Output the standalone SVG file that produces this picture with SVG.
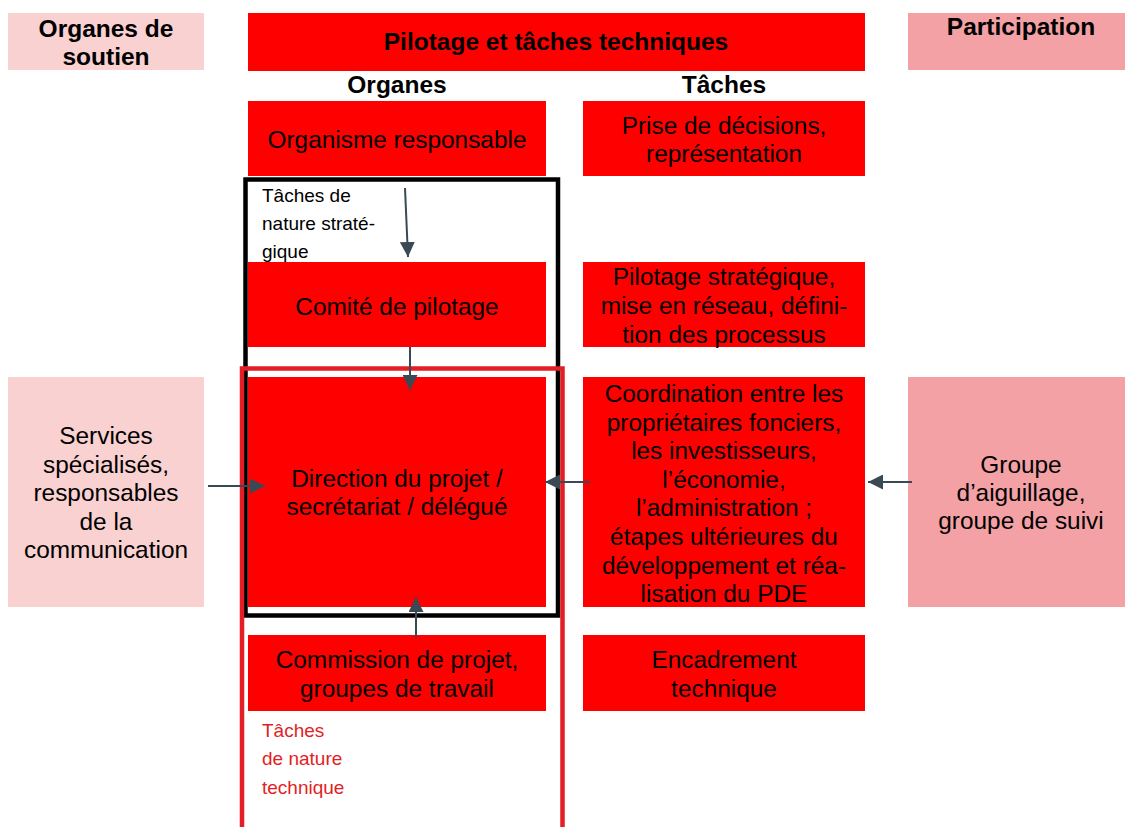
<svg xmlns="http://www.w3.org/2000/svg" width="1125" height="827" viewBox="0 0 1125 827">
<defs>
<style>
.box{fill:#ff0000}
.soft{fill:#f9d1d1}
.mid{fill:#f4a1a5}
text{font-family:"Liberation Sans",Arial,sans-serif;font-size:24.4px;text-anchor:middle;fill:#000}
.b{font-weight:bold;font-size:24.5px}
.s{font-size:19px;text-anchor:start}
.rt{fill:#e31e24}
.conn line{stroke:#3a4a55;stroke-width:2;marker-end:url(#ah)}
</style>
<marker id="ah" viewBox="0 0 10 10" refX="10" refY="5" markerUnits="userSpaceOnUse" markerWidth="15" markerHeight="15" orient="auto">
<path d="M0,0 L10,5 L0,10 z" fill="#3a4a55"/>
</marker>
</defs>
<rect width="1125" height="827" fill="#fff"/>

<g id="soutien-header">
<rect class="soft" x="8" y="13" width="196" height="57"/>
<text class="b" x="106" y="37">Organes de</text>
<text class="b" x="106" y="65">soutien</text>
</g>
<g id="pilotage-header">
<rect class="box" x="248" y="13" width="617" height="58"/>
<text class="b" x="556" y="50">Pilotage et tâches techniques</text>
</g>
<g id="participation-header">
<rect class="mid" x="908" y="13" width="217" height="57"/>
<text class="b" x="1021" y="35">Participation</text>
</g>
<g id="col-organes"><text class="b" x="397" y="93">Organes</text></g>
<g id="col-taches"><text class="b" x="724" y="93">Tâches</text></g>

<g id="frame-strategique">
<rect x="245.5" y="179.5" width="312.5" height="436" fill="none" stroke="#000" stroke-width="4.5"/>
<text class="s" x="262" y="202">Tâches de</text>
<text class="s" x="262" y="230">nature straté-</text>
<text class="s" x="262" y="258">gique</text>
</g>
<g id="frame-technique">
<path d="M242,830 V368.5 H562.5 V830" fill="none" stroke="#e31e24" stroke-width="4.5"/>
<text class="s rt" x="262" y="737">Tâches</text>
<text class="s rt" x="262" y="765">de nature</text>
<text class="s rt" x="262" y="794">technique</text>
</g>

<g id="organisme">
<rect class="box" x="248" y="101" width="298" height="75"/>
<text x="397" y="148">Organisme responsable</text>
</g>
<g id="prise-decisions">
<rect class="box" x="583" y="101" width="282" height="75"/>
<text x="724" y="134">Prise de décisions,</text>
<text x="724" y="162">représentation</text>
</g>
<g id="comite">
<rect class="box" x="248" y="262" width="298" height="85"/>
<text x="397" y="315">Comité de pilotage</text>
</g>
<g id="pilotage-strategique">
<rect class="box" x="583" y="262" width="282" height="85"/>
<text x="724" y="285">Pilotage stratégique,</text>
<text x="724" y="314">mise en réseau, défini-</text>
<text x="724" y="343">tion des processus</text>
</g>
<g id="services">
<rect class="soft" x="8" y="377" width="196" height="230"/>
<text x="106" y="444">Services</text>
<text x="106" y="473">spécialisés,</text>
<text x="106" y="501">responsables</text>
<text x="106" y="530">de la</text>
<text x="106" y="558">communication</text>
</g>
<g id="direction">
<rect class="box" x="248" y="377" width="298" height="230"/>
<text x="397" y="487">Direction du projet /</text>
<text x="397" y="515">secrétariat / délégué</text>
</g>
<g id="coordination">
<rect class="box" x="583" y="377" width="282" height="230"/>
<text x="724" y="402">Coordination entre les</text>
<text x="724" y="430.6">propriétaires fonciers,</text>
<text x="724" y="459.2">les investisseurs,</text>
<text x="724" y="487.8">l’économie,</text>
<text x="724" y="516.4">l’administration ;</text>
<text x="724" y="545">étapes ultérieures du</text>
<text x="724" y="573.5">développement et réa-</text>
<text x="724" y="602">lisation du PDE</text>
</g>
<g id="groupe">
<rect class="mid" x="908" y="377" width="217" height="230"/>
<text x="1021" y="473">Groupe</text>
<text x="1021" y="501">d’aiguillage,</text>
<text x="1021" y="529">groupe de suivi</text>
</g>
<g id="commission">
<rect class="box" x="248" y="635" width="298" height="76"/>
<text x="397" y="668">Commission de projet,</text>
<text x="397" y="697">groupes de travail</text>
</g>
<g id="encadrement">
<rect class="box" x="583" y="635" width="282" height="76"/>
<text x="724" y="668">Encadrement</text>
<text x="724" y="697">technique</text>
</g>

<g id="connectors" class="conn">
<line x1="405" y1="188" x2="408" y2="257"/>
<line x1="410" y1="347" x2="410" y2="390"/>
<line x1="208" y1="486" x2="265" y2="486"/>
<line x1="590" y1="482" x2="545" y2="482"/>
<line x1="912" y1="482" x2="868" y2="482"/>
<line x1="416" y1="638" x2="416" y2="597"/>
</g>
</svg>
